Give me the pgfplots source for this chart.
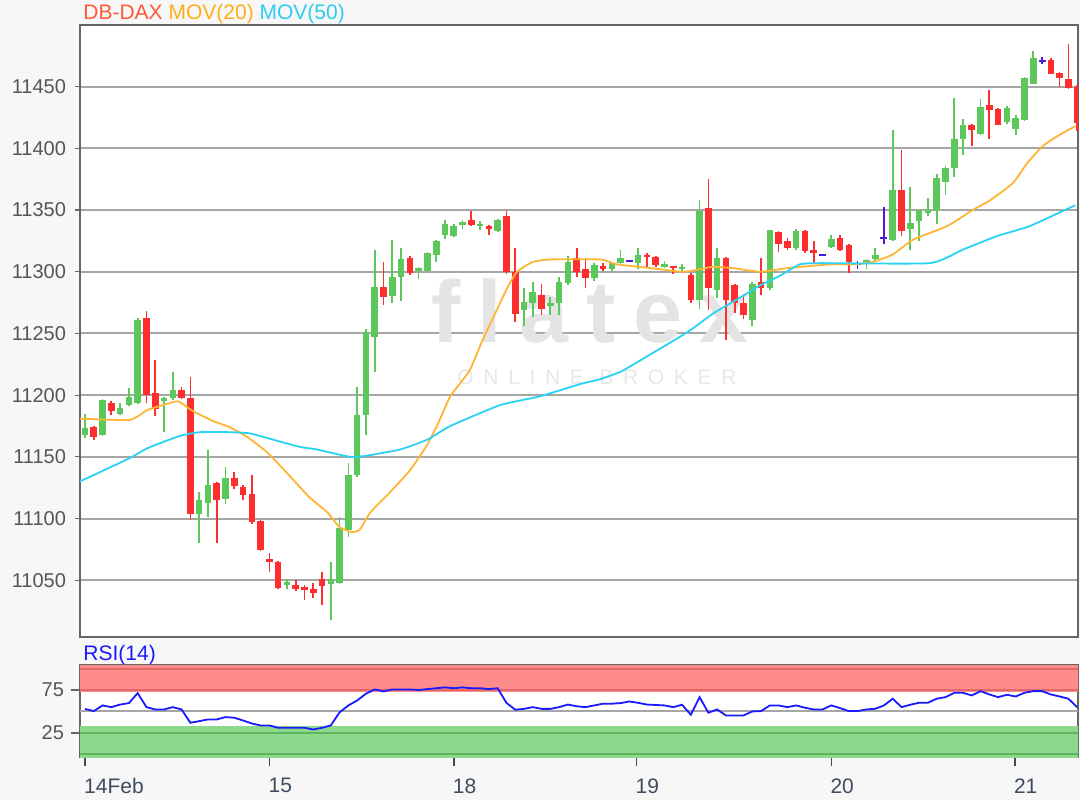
\documentclass[border=0pt]{standalone}
\usepackage{fontspec}
\setmainfont{Liberation Sans}
\usepackage{pgfplots}
\pgfplotsset{compat=1.18}
\usepackage{pgfplotstable}

\definecolor{bgc}{HTML}{F7F7F7}
\definecolor{cg}{HTML}{5CC85C}
\definecolor{cr}{HTML}{FF2E2E}
\definecolor{cp}{HTML}{4A1AD8}
\definecolor{mov20}{HTML}{FFB534}
\definecolor{mov50}{HTML}{2AD2F4}
\definecolor{rsic}{HTML}{1A1AFF}
\definecolor{framec}{HTML}{666666}
\definecolor{gridc}{HTML}{A6A6A6}
\definecolor{tickc}{HTML}{555555}
\definecolor{xtickc}{HTML}{3E4C5E}
\definecolor{redband}{HTML}{FF8C8C}
\definecolor{redline}{HTML}{E06A6A}
\definecolor{greenband}{HTML}{8CD98C}
\definecolor{greenline}{HTML}{5DB55D}
\definecolor{ttl1}{HTML}{FF5A36}
\definecolor{ttl2}{HTML}{FFAE1A}
\definecolor{ttl3}{HTML}{2CCDF0}
\definecolor{wm}{HTML}{E4E4E4}
\definecolor{wm2}{HTML}{E8E8E8}

\pgfplotstableread{
x o h l c
0 11168 11185 11165 11173
2 11168 11197 11167 11196
4 11185 11194 11184 11190
5 11192 11206 11191 11199
6 11194 11263 11193 11261
9 11195 11199 11170 11198
10 11198 11219 11196 11204
13 11104 11122 11080 11115
14 11113 11156 11101 11127
16 11116 11142 11112 11133
23 11046 11051 11043 11049
28 11047 11065 11018 11051
29 11048 11101 11047 11092
30 11091 11145 11085 11135
31 11135 11207 11134 11184
32 11184 11254 11168 11251
33 11247 11318 11219 11288
35 11280 11326 11275 11296
36 11296 11319 11276 11310
38 11301 11304 11294 11303
39 11301 11316 11300 11315
40 11314 11326 11308 11325
41 11330 11342 11327 11339
42 11329 11339 11328 11337
43 11338 11342 11335 11340
45 11337 11341 11334 11339
47 11333 11343 11332 11342
50 11269 11287 11256 11276
51 11275 11292 11263 11284
53 11272 11280 11265 11275
54 11275 11296 11265 11292
55 11291 11313 11289 11308
58 11295 11307 11293 11306
60 11302 11308 11301 11307
61 11307 11318 11306 11311
63 11307 11319 11302 11314
66 11304 11309 11303 11306
68 11302 11306 11300 11304
70 11277 11358 11270 11349
72 11285 11319 11279 11311
76 11261 11292 11256 11290
78 11287 11334 11285 11334
81 11319 11335 11318 11333
85 11320 11330 11319 11327
89 11308 11310 11302 11310
90 11310 11319 11309 11314
92 11326 11415 11325 11366
94 11335 11369 11318 11340
95 11341 11350 11325 11350
96 11348 11360 11345 11350
97 11350 11379 11339 11376
98 11373 11386 11362 11384
99 11384 11441 11377 11408
100 11408 11424 11395 11419
102 11412 11440 11411 11434
105 11421 11434 11420 11433
106 11416 11427 11411 11425
107 11423 11458 11422 11457
108 11452 11479 11452 11473
}\greentab

\pgfplotstableread{
x o h l c
1 11174 11175 11164 11166
3 11194 11195 11184 11187
7 11263 11268 11194 11200
8 11202 11229 11183 11189
11 11204 11207 11197 11198
12 11198 11215 11099 11104
15 11129 11130 11080 11115
17 11133 11138 11124 11126
18 11126 11127 11115 11119
19 11120 11135 11096 11097
20 11098 11099 11074 11075
21 11067 11072 11057 11065
22 11065 11066 11043 11044
24 11046 11050 11041 11043
25 11045 11046 11034 11042
26 11043 11048 11036 11040
27 11051 11057 11030 11045
34 11288 11308 11273 11280
37 11311 11313 11297 11299
44 11342 11349 11337 11338
46 11337 11338 11330 11335
48 11345 11349 11298 11300
49 11300 11319 11259 11266
52 11281 11290 11265 11270
56 11311 11319 11296 11300
57 11302 11311 11287 11295
59 11305 11307 11301 11302
64 11314 11315 11303 11312
65 11312 11313 11304 11306
67 11305 11305 11298 11303
69 11297 11299 11275 11277
71 11352 11375 11269 11287
73 11311 11312 11245 11277
74 11289 11290 11267 11275
75 11275 11282 11262 11265
77 11292 11311 11281 11287
79 11332 11333 11316 11323
80 11325 11327 11318 11319
82 11333 11334 11315 11317
83 11318 11325 11307 11315
86 11327 11330 11317 11318
87 11322 11323 11299 11308
93 11366 11399 11329 11333
101 11419 11420 11402 11415
103 11435 11447 11408 11431
104 11432 11433 11419 11419
110 11472 11473 11460 11460
111 11461 11462 11450 11457
112 11456 11485 11448 11449
113 11450 11451 11414 11421
}\redtab

\pgfplotstableread{
x h l c
62 11309 11309 11309
84 11314 11314 11314
88 11309 11302 11306
91 11353 11323 11327
109 11474 11468 11471
}\dojitab

\pgfplotstableread{
x y
-0.6 11181
5.1 11180
7.1 11188
8.9 11192
10.6 11195
12.3 11187
14.6 11179
16.5 11174
18.5 11166
20.7 11154
22.2 11143
23.9 11130
25.6 11117
27.6 11105
29.0 11093
30.4 11089
31.3 11091
32.5 11105
34.7 11121
37.0 11139
39.0 11160
40.4 11180
41.6 11199
43.8 11220
45.3 11245
46.9 11269
48.1 11287
49.2 11300
51.0 11308
53.0 11310
58.7 11310
60.6 11306
64.4 11303
68.1 11300
70.0 11302
71.5 11304
73.8 11303
76.9 11300
80.0 11303
84.9 11306
87.5 11306
89.7 11308
92.0 11314
94.3 11326
98.2 11337
101.1 11350
103.1 11358
105.7 11372
107.3 11388
109.1 11402
111.0 11411
112.8 11418
}\movA

\pgfplotstableread{
x y
-0.6 11130
5.1 11149
7.1 11157
10.8 11167
13.1 11170
16.5 11170
18.8 11169
21.4 11164
24.5 11158
26.4 11156
30.2 11150
32.1 11151
35.9 11156
39.0 11164
41.6 11175
47.3 11192
51.8 11199
56.4 11209
58.7 11213
61.0 11219
63.2 11228
68.6 11251
71.5 11266
74.6 11279
76.9 11289
79.2 11297
81.4 11306
83.7 11307
96.2 11307
100.0 11318
103.9 11329
107.6 11337
112.8 11354
}\movB

\pgfplotstableread{
x y
0 53
1 50.4
2 57
3 55
4 58
5 59.7
6 71.3
7 55
8 52.3
9 52.3
10 55
11 52.3
12 36.8
13 38.7
14 40.7
15 40.7
16 43.4
17 42.7
18 39.5
19 36
20 33.7
21 33.7
22 31
23 31
24 31
25 31
26 29
27 31
28 33.7
29 49
30 57
31 62.8
32 70.6
33 75.6
34 73.3
35 75.6
36 75.6
37 75.5
38 75
39 76
40 77
41 78
42 77
43 78
44 77
45 77
46 76
47 77
48 60
49 52
50 53
51 55
52 53
53 53
54 55
55 58
56 56
57 55
58 57
59 59
60 59
61 59.7
62 61.6
63 60
64 58
65 57.5
66 57
67 55
68 57.8
69 46.2
70 66.6
71 48.5
72 52.3
73 45.3
74 45.3
75 45.3
76 50
77 50.4
78 57
79 57
80 55
81 57
82 54.3
83 52.3
84 52.3
85 57
86 53.9
87 50.4
88 50.4
89 52.3
90 53.1
91 57
92 64.8
93 55
94 57.8
95 60.1
96 60.1
97 64.8
98 66.6
99 71.7
100 71.7
101 68.6
102 73.6
103 69.8
104 66.6
105 69.4
106 67.4
107 71.7
108 73.6
109 73.6
110 69.8
111 67.4
112 64.8
113 55
}\rsitab

\pgfplotsset{
  wick/.style={draw=none, mark=none, forget plot,
    error bars/.cd, y dir=both, y explicit, error mark=none,
    error bar style={line width=0.85pt, draw=#1}},
  body/.style={draw=none, mark=none, forget plot,
    error bars/.cd, y dir=both, y explicit, error mark=none,
    error bar style={line width=3.3pt, draw=#1}},
}

\begin{document}
\begin{tikzpicture}
\fill[bgc] (0,0) rectangle (540pt,400pt);
\useasboundingbox (0,0) rectangle (540pt,400pt);

\begin{axis}[
  name=main,
  at={(40pt,81.5pt)}, anchor=south west,
  scale only axis, width=499pt, height=306pt,
  xmin=-0.57, xmax=113.1, ymin=11004, ymax=11500,
  axis background/.style={fill=white},
  axis line style={draw=framec, line width=1pt},
  xtick=\empty, scaled y ticks=false,
  ytick={11050,11100,11150,11200,11250,11300,11350,11400,11450},
  yticklabels={11050,11100,11150,11200,11250,11300,11350,11400,11450},
  ymajorgrids, grid style={gridc, line width=1pt},
  tick align=outside, major tick length=2.5pt, ytick pos=left,
  tick style={framec, line width=0.6pt},
  yticklabel style={font=\fontsize{10}{12}\selectfont, text=tickc, xshift=-1pt},
]
\node[text=wm, anchor=base, font=\fontsize{44}{48}\selectfont\bfseries\addfontfeatures{LetterSpace=20}] at (rel axis cs:0.511,0.482) {flatex};
\node[text=wm2, anchor=base, font=\fontsize{10.5}{12}\selectfont\addfontfeatures{LetterSpace=46}] at (rel axis cs:0.518,0.412) {ONLINE BROKER};

\addplot[wick=cg] table[x=x, y expr={(\thisrow{h}+\thisrow{l})/2}, y error expr={(\thisrow{h}-\thisrow{l})/2}] {\greentab};
\addplot[wick=cr] table[x=x, y expr={(\thisrow{h}+\thisrow{l})/2}, y error expr={(\thisrow{h}-\thisrow{l})/2}] {\redtab};
\addplot[wick=cp] table[x=x, y expr={(\thisrow{h}+\thisrow{l})/2}, y error expr={(\thisrow{h}-\thisrow{l})/2}] {\dojitab};
\addplot[body=cg] table[x=x, y expr={(\thisrow{o}+\thisrow{c})/2}, y error expr={max(abs(\thisrow{o}-\thisrow{c})/2,0.8)}] {\greentab};
\addplot[body=cr] table[x=x, y expr={(\thisrow{o}+\thisrow{c})/2}, y error expr={max(abs(\thisrow{o}-\thisrow{c})/2,0.8)}] {\redtab};
\addplot[draw=none, mark=none, forget plot, error bars/.cd, x dir=both, x fixed=0.4, error mark=none, error bar style={line width=1pt, draw=cp}] table[x=x, y=c] {\dojitab};

\addplot[mov20, line width=0.9pt, smooth, tension=0.3] table {\movA};
\addplot[mov50, line width=0.9pt, smooth, tension=0.3] table {\movB};
\end{axis}

\node[anchor=base west, inner sep=0pt, font=\fontsize{10.5}{12}\selectfont] at ([xshift=1.5pt, yshift=2.6pt]main.north west) {\textcolor{ttl1}{DB-DAX} \textcolor{ttl2}{MOV(20)} \textcolor{ttl3}{MOV(50)}};

\begin{axis}[
  name=rsi,
  at={(40pt,21.5pt)}, anchor=south west,
  scale only axis, width=499pt, height=46pt,
  xmin=-0.57, xmax=113.1, ymin=-3, ymax=104,
  axis background/.style={fill=white},
  axis line style={draw=framec, line width=1pt},
  ytick={25,75}, yticklabels={25,75},
  xtick={0,21,42,62.8,85,105.9},
  xticklabels={14Feb,15,18,19,20,21},
  tick align=outside, major tick length=4.5pt,
  xtick pos=bottom, ytick pos=left,
  xtick style={xtickc, line width=0.8pt},
  ytick style={framec, line width=0.6pt},
  yticklabel style={font=\fontsize{10}{12}\selectfont, text=tickc},
  xticklabel style={font=\fontsize{10.5}{12}\selectfont, text=xtickc, anchor=north west, inner sep=0pt, xshift=-0.6pt, yshift=-6pt},
]
\fill[redband] (axis cs:-1,72.7) rectangle (axis cs:114,105);
\fill[greenband] (axis cs:-1,-4) rectangle (axis cs:114,32.6);
\draw[redline, line width=1pt] (axis cs:-1,99.5) -- (axis cs:114,99.5);
\draw[redline, line width=1pt] (axis cs:-1,75) -- (axis cs:114,75);
\draw[gridc, line width=1pt] (axis cs:-1,50) -- (axis cs:114,50);
\draw[greenline, line width=1pt] (axis cs:-1,25) -- (axis cs:114,25);
\draw[greenline, line width=1pt] (axis cs:-1,0) -- (axis cs:114,0);
\addplot[rsic, line width=0.9pt] table {\rsitab};
\end{axis}

\node[anchor=base west, inner sep=0pt, font=\fontsize{10.5}{12}\selectfont, text=rsic] at ([xshift=1.5pt, yshift=2.2pt]rsi.north west) {RSI(14)};
\end{tikzpicture}
\end{document}
